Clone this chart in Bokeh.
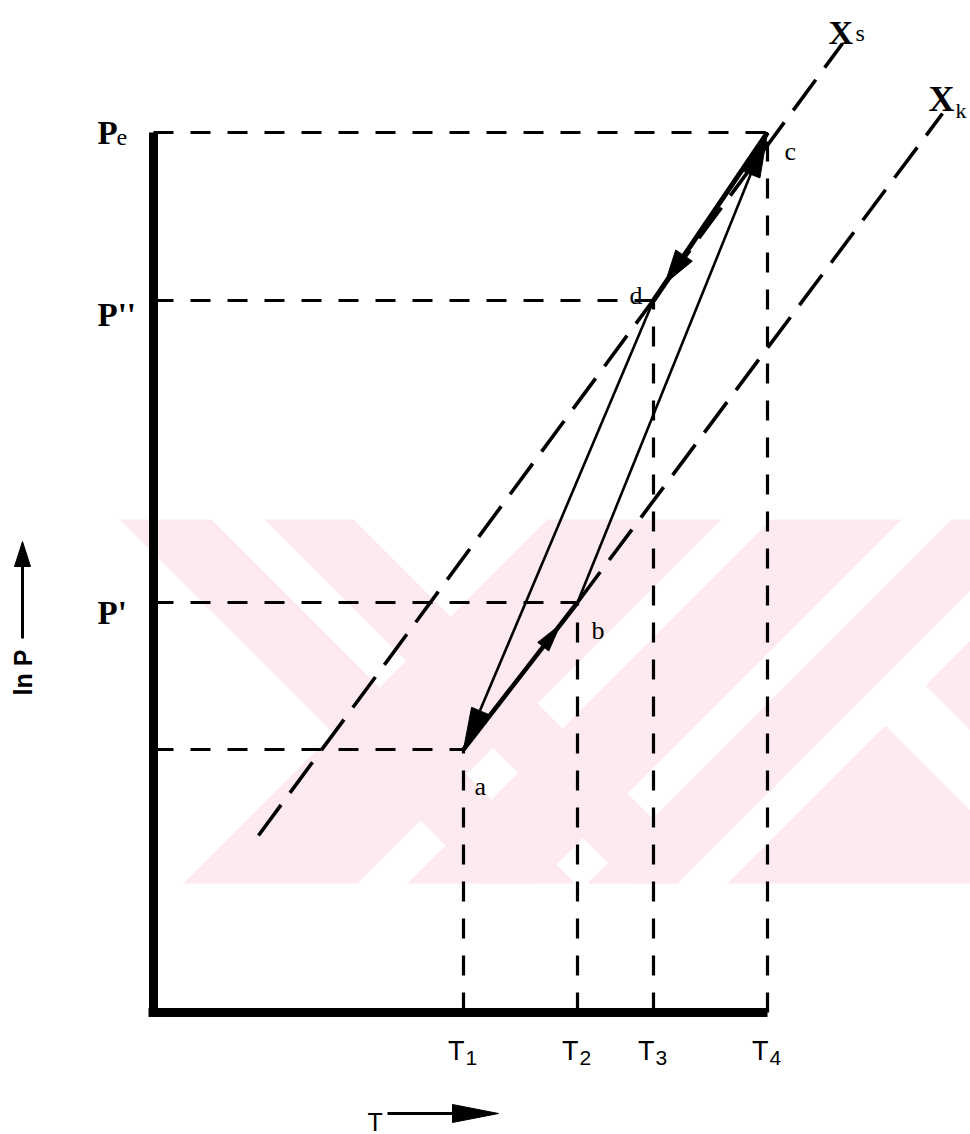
import math
from bokeh.plotting import figure
from bokeh.models import Range1d
from bokeh.core.properties import value
from bokeh.embed import file_html
from bokeh.resources import INLINE

# ---------------- data (schematic units) ----------------
t_names = ["1", "2", "3", "4"]               # subscripts of T1..T4
t_values = [3.10, 4.24, 5.00, 6.14]          # T1..T4
level_names = ["", "P'", "P''", "P"]         # ln P levels (a, P', P'', Pe)
level_values = [2.63, 4.10, 7.12, 8.80]
state_names = ["a", "b", "c", "d"]
state_T = [3.10, 4.24, 6.14, 5.00]
state_lnP = [2.63, 4.10, 8.80, 7.12]
xs_T = [1.05, 6.89]                          # equilibrium line X_s
xs_lnP = [1.77, 9.69]
xk_T = [4.24, 7.89]                          # equilibrium line X_k
xk_lnP = [4.10, 8.99]

# ---------------- figure ----------------
S = 100.0                                    # px per unit (both axes)
X0, Y0 = 153.0, 1012.0                       # page px of origin
W_PX, H_PX = 970, 1134
def X(px): return (px - X0) / S
def Y(py): return (Y0 - py) / S

p = figure(width=W_PX, height=H_PX,
           x_range=Range1d(X(0), X(W_PX)), y_range=Range1d(Y(H_PX), Y(0)),
           output_backend="svg", toolbar_location=None, min_border=0,
           x_axis_type=None, y_axis_type=None, outline_line_color=None,
           background_fill_color="white", border_fill_color="white")

# ---------------- faint watermark ----------------
def clip(poly, a, b, c):
    out = []
    n = len(poly)
    for i in range(n):
        P, Q = poly[i], poly[(i + 1) % n]
        fp = a * P[0] + b * P[1] - c
        fq = a * Q[0] + b * Q[1] - c
        if fp <= 0:
            out.append(P)
        if (fp < 0 < fq) or (fq < 0 < fp):
            t = fp / (fp - fq)
            out.append((P[0] + t * (Q[0] - P[0]), P[1] + t * (Q[1] - P[1])))
    return out

rect = [(119, 519), (970, 519), (970, 883), (119, 883)]
def region(constraints):
    poly = rect
    for kind, lo, hi in constraints:
        if kind == "d":   # x - y
            if lo is not None: poly = clip(poly, -1, 1, -lo)
            if hi is not None: poly = clip(poly, 1, -1, hi)
        else:             # x + y
            if lo is not None: poly = clip(poly, -1, -1, -lo)
            if hi is not None: poly = clip(poly, 1, 1, hi)
        if not poly:
            break
    return poly

wm_regions = [
    [("d", -400, -308), ("s", None, 1560)],
    [("d", -255, -166), ("s", None, 1560)],
    [("s", 1066, 1240)],
    [("s", 1290, 1420)],
    [("s", 1470, 1560)],
    [("s", 1610, None), ("d", None, 160)],
    [("s", 1610, None), ("d", 240, None)],
]
wx, wy = [], []
for cons in wm_regions:
    poly = region(cons)
    if poly:
        wx.append([X(q[0]) for q in poly])
        wy.append([Y(q[1]) for q in poly])
p.patches(wx, wy, fill_color="#fdeaee", line_color=None)

# ---------------- axes ----------------
p.segment(x0=[0, X(148)], y0=[0, 0], x1=[0, t_values[3]], y1=[level_values[3], 0],
          line_color="black", line_width=9, line_cap="butt")

# ---------------- guide lines ----------------
pt = dict(zip(state_names, zip(state_T, state_lnP)))
guide_pts = [pt["a"], pt["b"], pt["d"], pt["c"]]
p.segment(x0=[0] * 4, y0=[g[1] for g in guide_pts],
          x1=[g[0] for g in guide_pts], y1=[g[1] for g in guide_pts],
          line_color="black", line_width=3.2, line_dash="20 17")
p.segment(x0=[g[0] for g in guide_pts], y0=[0] * 4,
          x1=[g[0] for g in guide_pts], y1=[g[1] for g in guide_pts],
          line_color="black", line_width=3.2, line_dash="20 17")

# ---------------- equilibrium lines ----------------
p.line(xs_T, xs_lnP, line_color="black", line_width=3.6, line_dash="38 15")
p.line(xk_T, xk_lnP, line_color="black", line_width=3.6, line_dash="38 15")

# ---------------- cycle a-b-c-d ----------------
legs = [("a", "b", 4.5), ("b", "c", 2.6), ("c", "d", 5.0), ("d", "a", 2.6)]
for s, e, w in legs:
    p.line([pt[s][0], pt[e][0]], [pt[s][1], pt[e][1]], line_color="black", line_width=w)

def head(tip, frm, L, W):
    ux, uy = tip[0] - frm[0], tip[1] - frm[1]
    n = math.hypot(ux, uy)
    ux, uy = ux / n, uy / n
    bx, by = tip[0] - L * ux, tip[1] - L * uy
    return ([tip[0], bx - W * uy, bx + W * uy], [tip[1], by + W * ux, by - W * ux])

def along(s, e, f):
    return (pt[s][0] + f * (pt[e][0] - pt[s][0]), pt[s][1] + f * (pt[e][1] - pt[s][1]))

heads = [head(pt["a"], pt["d"], 0.42, 0.09),
         head(along("a", "b", 0.85), pt["a"], 0.28, 0.07),
         head(pt["c"], pt["b"], 0.45, 0.10),
         head(along("c", "d", 0.90), pt["c"], 0.34, 0.10)]
p.patches([h[0] for h in heads], [h[1] for h in heads], fill_color="black", line_color="black", line_width=1)

# ---------------- labels ----------------
serif = value("Liberation Serif")
sans = value("Liberation Sans")

# state labels (offset in px from each state point)
state_off = {"a": (11, 37), "b": (14, 28), "c": (17, 19), "d": (-24, -5)}
p.text(x=[pt[k][0] + state_off[k][0] / S for k in state_names],
       y=[pt[k][1] - state_off[k][1] / S for k in state_names],
       text=state_names, text_font=serif, text_font_size="26px",
       text_align="left", text_baseline="alphabetic", text_color="black")

# pressure labels
lab_x = X(97)
p_base = {"P": 0, "P'": 10, "P''": 14}
named = [(n, v) for n, v in zip(level_names, level_values) if n]
p.text(x=[lab_x] * len(named), y=[v - p_base[n] / S for n, v in named],
       text=[n for n, v in named], text_font=serif, text_font_size="33px",
       text_font_style="bold", text_align="left", text_baseline="alphabetic",
       text_color="black")
p.text(x=[lab_x + 19 / S], y=[level_values[3] - 5 / S], text=["e"], text_font=serif,
       text_font_size="24px", text_align="left", text_baseline="alphabetic", text_color="black")

# line labels X_s, X_k
p.text(x=[xs_T[1] - 14 / S, xk_T[1] - 14 / S], y=[xs_lnP[1] + 11 / S, xk_lnP[1] + 15 / S],
       text=["X", "X"], text_font=serif, text_font_size=["34px", "36px"],
       text_font_style="bold", text_align="left", text_baseline="alphabetic", text_color="black")
p.text(x=[xs_T[1] + 13 / S, xk_T[1] + 13 / S], y=[xs_lnP[1] + 11 / S, xk_lnP[1] + 3 / S],
       text=["s", "k"], text_font=serif, text_font_size=["24px", "22px"],
       text_align="left", text_baseline="alphabetic", text_color="black")

# temperature tick labels
p.text(x=[t + 1 / S for t in t_values], y=[-38 / S] * 4, text=["T"] * 4, text_font=sans,
       text_font_size="27px", text_align="right", text_baseline="alphabetic", text_color="black")
p.text(x=[t + 2 / S for t in t_values], y=[-45 / S] * 4, text=t_names, text_font=sans,
       text_font_size="21px", text_align="left", text_baseline="alphabetic", text_color="black")

# axis titles with arrows
p.text(x=[X(367)], y=[Y(1121)], text=["T"], text_font=sans, text_font_size="25px",
       text_align="left", text_baseline="alphabetic", text_color="black")
p.line([X(387), X(455)], [Y(1113), Y(1113)], line_color="black", line_width=3)
hx, hy = head((X(498), Y(1113)), (X(387), Y(1113)), 0.46, 0.09)
p.patch(hx, hy, fill_color="black", line_color="black")

p.text(x=[X(22)], y=[Y(672)], text=["ln P"], angle=math.pi / 2, text_font=sans,
       text_font_size="25px", text_font_style="bold", text_align="center",
       text_baseline="middle", text_color="black")
p.line([X(22), X(22)], [Y(638), Y(563)], line_color="black", line_width=3)
vx, vy = head((X(22), Y(541)), (X(22), Y(638)), 0.25, 0.08)
p.patch(vx, vy, fill_color="black", line_color="black")

open("out.html", "w").write(file_html(p, INLINE))
